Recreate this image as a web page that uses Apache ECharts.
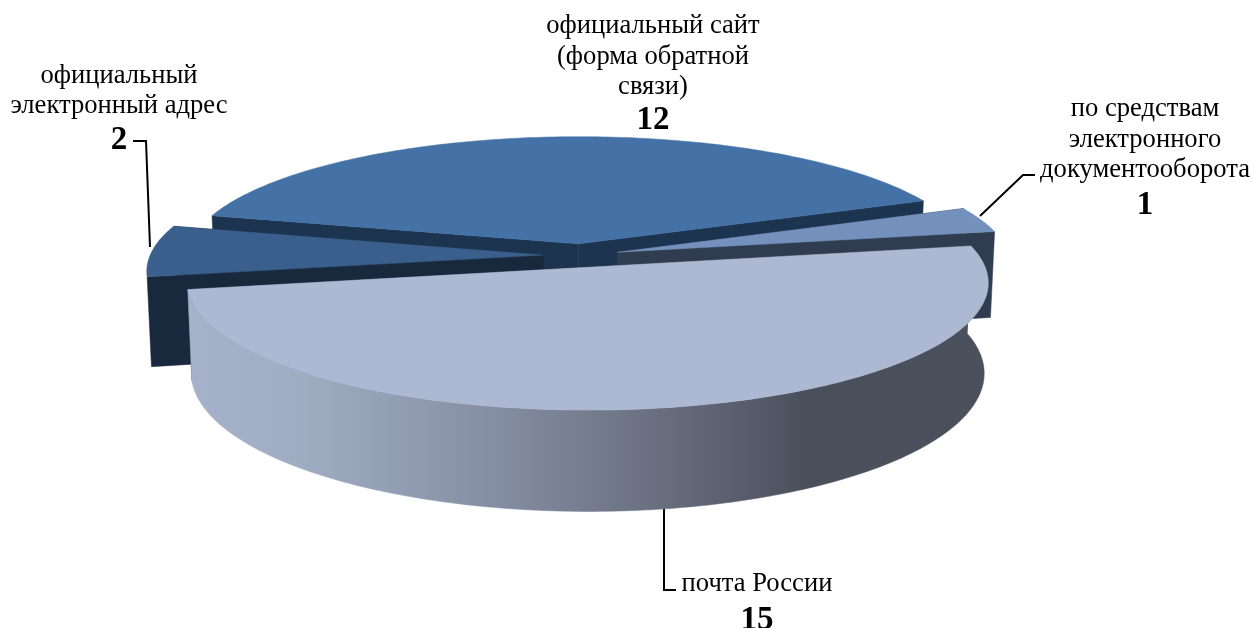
<!DOCTYPE html>
<html>
<head>
<meta charset="utf-8">
<style>
  html, body { margin: 0; padding: 0; background: #fff; }
  #chart { width: 1254px; height: 628px; }
</style>
</head>
<body>
<div id="chart"></div>
<script src="https://cdn.jsdelivr.net/npm/echarts@6/dist/echarts.min.js"></script>
<script>
// clockwise, starting from the left edge of the site slice
const categories = ['официальный сайт', 'по средствам электронного документооборота', 'почта России', 'официальный электронный адрес'];
const values = [12, 1, 15, 2];
const startAngle = 194;

// looks of the disc
const topColors = ['#4472a7', '#7491bd', '#adb9d2', '#3b5f8c'];
const wallColors = ['#1c3450', '#303c50', '#4a515c', '#19293d'];
const drawOrder = [0, 1, 3, 2];
const cx = 581, cy = 255.5, R = 393, tilt = 0.312, persp = 0.12, depth = 88, explode = 38, taper = 0.01;

const total = values.reduce((a, b) => a + b, 0);

function project(X, Y, Z) {
  const s = 1 / (1 - (persp * Y) / R);
  return [cx + X * s * (1 - (taper * Z) / depth), cy + (Y * tilt + Z) * s];
}

function renderSlice(params, api) {
  const i = api.value(0);
  let from = startAngle;
  for (let k = 0; k < i; k++) from += (values[k] / total) * 360;
  const to = from + (api.value(1) / total) * 360;
  const mid = ((from + to) / 2) * Math.PI / 180;
  const ox = explode * Math.cos(mid);
  const oy = explode * Math.sin(mid);

  const rim = [];
  for (let a = from; a < to; a += 1) rim.push([ox + R * Math.cos(a * Math.PI / 180), oy + R * Math.sin(a * Math.PI / 180)]);
  rim.push([ox + R * Math.cos(to * Math.PI / 180), oy + R * Math.sin(to * Math.PI / 180)]);

  const first = rim[0];
  const last = rim[rim.length - 1];
  const base = drawOrder[i] * 10;
  const wall = wallColors[i];
  const poly = (points, fill, z) => ({ type: 'polygon', silent: true, z2: base + z, shape: { points }, style: { fill, stroke: fill, lineWidth: 0.5 } });

  // radial walls
  const sideA = [project(ox, oy, 0), project(first[0], first[1], 0), project(first[0], first[1], depth), project(ox, oy, depth)];
  const sideB = [project(ox, oy, 0), project(last[0], last[1], 0), project(last[0], last[1], depth), project(ox, oy, depth)];
  const outerTop = rim.map((p) => project(p[0], p[1], 0));
  const children = [poly(sideA, wall, 0), poly(sideB, wall, 1)];

  // only the big front slice shows its outer wall, the others hide it
  if (i === 2) {
    const outerBottom = rim.map((p) => project(p[0], p[1], depth)).reverse();
    const outerFill = new echarts.graphic.LinearGradient(0, 0, 1, 0, [
      { offset: 0, color: '#a6b1ca' },
      { offset: 0.14, color: '#9fadc3' },
      { offset: 0.38, color: '#858fa3' },
      { offset: 0.6, color: '#676d7d' },
      { offset: 0.77, color: '#4a505b' },
      { offset: 1, color: '#4a515c' },
    ]);
    children.push(poly(outerTop.concat(outerBottom), outerFill, 2));
  }
  children.push(poly([project(ox, oy, 0)].concat(outerTop), topColors[i], 3));

  return { type: 'group', children };
}

const textFont = '"Liberation Serif", "Times New Roman", serif';
const label = (x, y, text) => ({
  type: 'text', x, y, silent: true,
  style: { text, fill: '#000', font: '26.6px ' + textFont, align: 'center', verticalAlign: 'middle', lineHeight: 30.5 },
});
const number = (x, y, text) => ({
  type: 'text', x, y, silent: true,
  style: { text, fill: '#000', font: 'bold 33px ' + textFont, align: 'center', verticalAlign: 'middle' },
});
const leader = (points) => ({
  type: 'polyline', silent: true, shape: { points },
  style: { stroke: '#000', lineWidth: 2, fill: 'none' },
});

const chart = echarts.init(document.getElementById('chart'));
chart.setOption({
  animation: false,
  backgroundColor: '#fff',
  series: [
    {
      type: 'custom',
      coordinateSystem: 'none',
      silent: true,
      renderItem: renderSlice,
      data: values.map((v, i) => ({ name: categories[i], value: [i, v] })),
    },
  ],
  graphic: [
    label(653, 57, 'официальный сайт\n(форма обратной\nсвязи)'),
    number(653, 120, String(values[0])),
    label(1145, 140, 'по средствам\nэлектронного\nдокументооборота'),
    number(1145, 205, String(values[1])),
    label(757, 584, 'почта России'),
    number(757, 620, String(values[2])),
    label(119, 91, 'официальный\nэлектронный адрес'),
    number(119, 140, String(values[3])),
    leader([[133, 141], [146, 141], [150, 247]]),
    leader([[980, 216], [1023, 175], [1035, 175]]),
    leader([[664, 507], [664, 590], [676, 590]]),
  ],
});
</script>
</body>
</html>
